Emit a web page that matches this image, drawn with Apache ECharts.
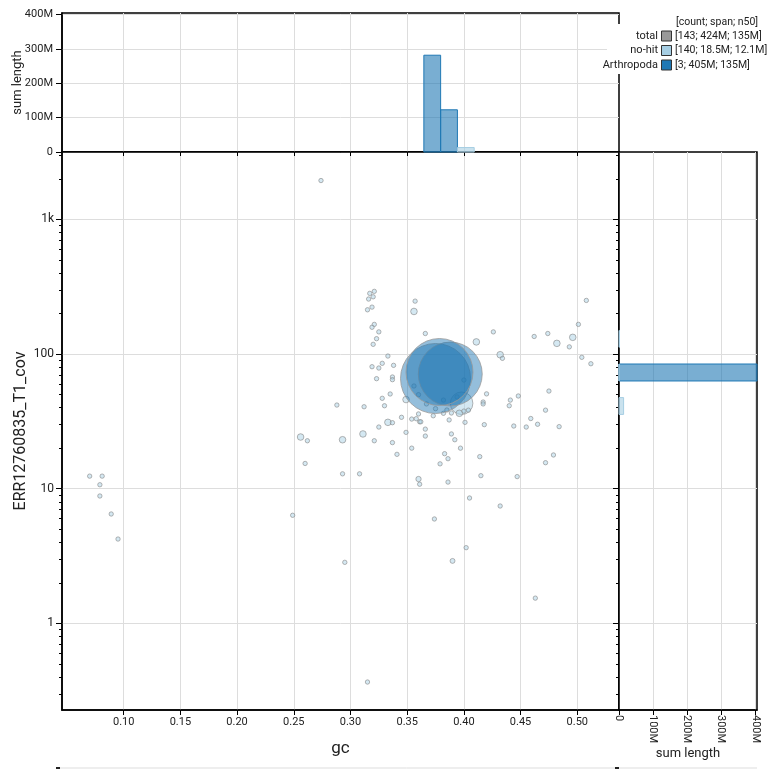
<!DOCTYPE html>
<html><head><meta charset="utf-8">
<script src="https://cdn.jsdelivr.net/npm/echarts@6/dist/echarts.min.js"></script>
<style>html,body{margin:0;padding:0;background:#fff}#c{width:772px;height:772px}</style>
</head><body><div id="c"></div>
<script>
// ---------- axis ticks ----------
const gcTicks = [0.10, 0.15, 0.20, 0.25, 0.30, 0.35, 0.40, 0.45, 0.50];
const gcMin = 0.0456, gcMax = 0.5368;
const covTicks = [1, 10, 100, 1000];
const covTickLabels = ['1', '10', '100', '1k'];
const covMinor = [0.3,0.4,0.5,0.6,0.7,0.8,0.9,2,3,4,5,6,7,8,9,20,30,40,50,60,70,80,90,200,300,400,500,600,700,800,900,2000,3000];
const covMin = 0.2275, covMax = 3162;
const lenTicks = [0, 100e6, 200e6, 300e6, 400e6];
const lenTickLabels = ['0', '100M', '200M', '300M', '400M'];
const lenMax = 405e6;

// ---------- scatter: no-hit ----------
const nohitGc = [0.398,
 0.321,0.317,0.320,0.316,0.319,0.315,0.357,0.356,0.321,0.319,0.325,0.323,0.320,0.366,0.426,0.411,0.462,0.474,0.482,0.496,
 0.493,0.501,0.508,0.504,0.512,0.432,0.434,0.333,0.319,0.325,0.328,0.338,0.323,0.337,0.337,0.335,0.328,0.330,0.312,0.288,
 0.349,0.420,0.417,0.417,0.441,0.448,0.440,0.475,0.472,0.459,0.465,0.484,0.455,0.444,0.418,0.401,0.396,0.389,0.400,0.404,
 0.387,0.382,0.373,0.360,0.361,0.362,0.354,0.358,0.366,0.345,0.333,0.337,0.325,0.311,0.321,0.293,0.256,0.262,0.337,0.349,
 0.366,0.389,0.392,0.397,0.354,0.341,0.383,0.386,0.379,0.414,0.479,0.472,0.260,0.293,0.308,0.360,0.361,0.386,0.415,0.447,
 0.405,0.432,0.249,0.374,0.402,0.295,0.390,0.463,0.315,0.274,0.070,0.081,0.079,0.079,0.089,0.095,
 0.356,0.360,0.367,0.382,0.385,0.375,0.394,0.400];
const nohitCov = [43.1,
 292,282,266,256,223,213,247,207,166,158,146,130,118,142,146,123,135,142,120,133,
 113,166,250,94.5,84.7,98.8,92.9,96.6,80.5,78.7,85.3,82.4,65.6,67.5,64.5,50.5,46.9,41.3,40.6,41.8,
 45.9,50.6,44.0,42.6,45.5,48.8,41.3,53.1,38.3,33.2,30.1,28.9,28.7,29.2,29.9,31.1,36.3,36.5,37.7,38.3,
 32.4,36.3,34.8,35.9,31.4,31.4,32.9,33.1,27.7,33.9,31.1,30.9,28.7,25.5,22.7,23.1,24.2,22.7,22.0,26.2,
 24.6,25.5,23.1,20.0,20.0,18.0,18.2,16.7,15.3,17.3,17.8,15.6,15.4,12.9,12.9,11.8,10.8,11.2,12.5,12.3,
 8.53,7.44,6.35,5.96,3.65,2.84,2.91,1.54,0.367,1941,12.4,12.4,10.7,8.83,6.49,4.23,
 57.9,49.9,42.6,45.5,38.4,39.3,48.0,64.1];
const nohitLen = [12100000,
 20000,20000,20000,20000,20000,20000,20000,300000,20000,20000,20000,20000,20000,20000,20000,300000,20000,20000,300000,300000,
 20000,20000,20000,20000,20000,300000,20000,20000,20000,20000,20000,20000,20000,20000,20000,20000,20000,20000,20000,20000,
 300000,20000,20000,20000,20000,20000,20000,20000,20000,20000,20000,20000,20000,20000,20000,20000,300000,20000,20000,20000,
 20000,20000,20000,20000,20000,20000,20000,20000,20000,20000,300000,20000,20000,300000,20000,300000,300000,20000,20000,20000,
 20000,20000,20000,20000,20000,20000,20000,20000,20000,20000,20000,20000,20000,20000,20000,100000,20000,20000,20000,20000,
 20000,20000,20000,20000,20000,20000,60000,20000,20000,20000,20000,20000,20000,20000,20000,20000,
 20000,20000,20000,20000,20000,20000,20000,20000];

// ---------- scatter: Arthropoda ----------
const arthGc = [0.375, 0.388, 0.3785];
const arthCov = [65.8, 71.0, 73.5];
const arthLen = [148e6, 122e6, 135e6];

// ---------- top histogram (sum length by gc bin) ----------
const gcBinLow = [0.3647, 0.3795, 0.3943];
const gcBinHigh = [0.3795, 0.3943, 0.4091];
const arthGcHist = [282e6, 123e6, 0];
const nohitGcHist = [0, 0, 13e6];

// ---------- right histogram (sum length by coverage bin) ----------
const covBinLow = [35.6, 63.07, 112.3];
const covBinHigh = [47.5, 84.3, 149.7];
const arthCovHist = [0, 405e6, 0];
const nohitCovHist = [13.5e6, 0.3e6, 1.5e6];

// ---------- legend ----------
const legendHeader = '[count; span; n50]';
const legendNames = ['total', 'no-hit', 'Arthropoda'];
const legendStats = ['[143; 424M; 135M]', '[140; 18.5M; 12.1M]', '[3; 405M; 135M]'];

// ---------- styles ----------
const FONT = 'Roboto';
const C_NOHIT = '#a6cee3', C_ARTH = '#1f78b4', C_TOTAL = '#999999';
const lg = Math.log10;

const chart = echarts.init(document.getElementById('c'), null, {renderer: 'canvas', width: 772, height: 772});

const sizeFn = v => 2 * (1.8 + 0.00273 * Math.sqrt(v[2]));
const nohitData = nohitGc.map((g, i) => [g, lg(nohitCov[i]), nohitLen[i]]);
const arthData = arthGc.map((g, i) => [g, lg(arthCov[i]), arthLen[i]]);

function topHist(values) { return gcBinLow.map((lo, i) => [lo, gcBinHigh[i], values[i]]); }
function rightHist(values) { return covBinLow.map((lo, i) => [lg(lo), lg(covBinHigh[i]), values[i]]); }

function topRender(fill, stroke) {
  return function (params, api) {
    const v = api.value(2);
    if (!(v > 0)) return null;
    const a = api.coord([api.value(0), 0]);
    const b = api.coord([api.value(1), v]);
    return {type: 'rect', shape: {x: a[0], y: b[1], width: b[0] - a[0], height: a[1] - b[1]},
      style: {fill: fill, stroke: stroke, lineWidth: 1}};
  };
}
function rightRender(fill, stroke) {
  return function (params, api) {
    const v = api.value(2);
    if (!(v > 0)) return null;
    const a = api.coord([0, api.value(0)]);
    const b = api.coord([v, api.value(1)]);
    return {type: 'rect', shape: {x: a[0], y: b[1], width: b[0] - a[0], height: a[1] - b[1]},
      style: {fill: fill, stroke: stroke, lineWidth: 1}};
  };
}

const gridLine = {show: true, lineStyle: {color: '#dddddd', width: 1}};
const axLine = {show: true, onZero: false, lineStyle: {color: '#000', width: 1.5}};
const lblStyle = {fontFamily: FONT, fontSize: 11, color: '#222'};
const covTickLogs = covTicks.map(lg);
const covMinorLogs = covMinor.map(lg);
const covLabel = v => { const i = covTickLogs.findIndex(t => Math.abs(t - v) < 1e-6); return i >= 0 ? covTickLabels[i] : ''; };
const lenLabel = v => { const i = lenTicks.findIndex(t => Math.abs(t - v) < 1); return i >= 0 ? lenTickLabels[i] : ''; };

const option = {
  animation: false,
  backgroundColor: '#fff',
  grid: [
    {left: 62, top: 152, width: 557, height: 558, show: true, borderColor: '#000', borderWidth: 1.5, containLabel: false, outerBoundsMode: 'none'},
    {left: 62, top: 13, width: 557, height: 139, show: true, borderColor: '#000', borderWidth: 1.5, containLabel: false, outerBoundsMode: 'none'},
    {left: 619, top: 152, width: 138, height: 558, show: true, borderColor: '#000', borderWidth: 1.5, containLabel: false, outerBoundsMode: 'none'}
  ],
  xAxis: [
    {gridIndex: 0, type: 'value', min: gcMin, max: gcMax, position: 'bottom',
      axisLine: axLine,
      axisTick: {show: true, customValues: gcTicks, length: 5, lineStyle: {color: '#000'}},
      axisLabel: Object.assign({customValues: gcTicks, formatter: v => v.toFixed(2), margin: 7}, lblStyle),
      splitLine: gridLine,
      name: 'gc', nameLocation: 'middle', nameGap: 30,
      nameTextStyle: {fontFamily: FONT, fontSize: 17, color: '#222'}},
    {gridIndex: 1, type: 'value', min: gcMin, max: gcMax, position: 'bottom',
      axisLine: axLine,
      axisTick: {show: true, customValues: gcTicks, length: 4, lineStyle: {color: '#000'}},
      axisLabel: {show: false},
      splitLine: gridLine},
    {gridIndex: 2, type: 'value', min: 0, max: lenMax, position: 'bottom',
      axisLine: axLine,
      axisTick: {show: true, customValues: lenTicks, length: 5, lineStyle: {color: '#000'}},
      axisLabel: Object.assign({customValues: lenTicks, formatter: lenLabel, rotate: -90, margin: 5}, lblStyle),
      splitLine: gridLine,
      name: 'sum length', nameLocation: 'middle', nameGap: 37, nameMoveOverlap: false,
      nameTextStyle: {fontFamily: FONT, fontSize: 13, color: '#222'}}
  ],
  yAxis: [
    {gridIndex: 0, type: 'value', min: lg(covMin), max: lg(covMax), position: 'left',
      axisLine: axLine,
      axisTick: {show: true, customValues: covTickLogs, length: 6, lineStyle: {color: '#000'}},
      axisLabel: Object.assign({customValues: covTickLogs, formatter: covLabel, margin: 8}, lblStyle, {fontSize: 12}),
      splitLine: gridLine,
      name: 'ERR12760835_T1_cov', nameLocation: 'middle', nameGap: 33, nameRotate: 90, nameMoveOverlap: false,
      nameTextStyle: {fontFamily: FONT, fontSize: 16, color: '#222'}},
    {gridIndex: 0, type: 'value', min: lg(covMin), max: lg(covMax), position: 'left', offset: 0,
      axisLine: {show: false},
      axisTick: {show: true, customValues: covMinorLogs, length: 3, lineStyle: {color: '#000'}},
      axisLabel: {show: false}, splitLine: {show: false}},
    {gridIndex: 1, type: 'value', min: 0, max: lenMax, position: 'left',
      axisLine: axLine,
      axisTick: {show: true, customValues: lenTicks, length: 6, lineStyle: {color: '#000'}},
      axisLabel: Object.assign({customValues: lenTicks, formatter: lenLabel, margin: 9}, lblStyle),
      splitLine: gridLine,
      name: 'sum length', nameLocation: 'middle', nameGap: 38, nameRotate: 90, nameMoveOverlap: false,
      nameTextStyle: {fontFamily: FONT, fontSize: 13, color: '#222'}},
    {gridIndex: 2, type: 'value', min: lg(covMin), max: lg(covMax), position: 'left',
      axisLine: axLine,
      axisTick: {show: true, customValues: covTickLogs, length: 6, lineStyle: {color: '#000'}},
      axisLabel: {show: false},
      splitLine: gridLine},
    {gridIndex: 2, type: 'value', min: lg(covMin), max: lg(covMax), position: 'left', offset: 0,
      axisLine: {show: false},
      axisTick: {show: true, customValues: covMinorLogs, length: 3, lineStyle: {color: '#000'}},
      axisLabel: {show: false}, splitLine: {show: false}}
  ],
  series: [
    {type: 'scatter', name: 'no-hit', xAxisIndex: 0, yAxisIndex: 0, data: nohitData, symbolSize: sizeFn,
      itemStyle: {color: 'rgba(166,206,227,0.6)', borderColor: '#8a8a8a', borderWidth: 0.8}, z: 3},
    {type: 'scatter', name: 'Arthropoda', xAxisIndex: 0, yAxisIndex: 0, data: arthData, symbolSize: sizeFn,
      itemStyle: {color: 'rgba(31,120,180,0.6)', borderColor: '#9a9a9a', borderWidth: 1}, z: 4},
    {type: 'custom', xAxisIndex: 1, yAxisIndex: 2, data: topHist(arthGcHist), encode: {x: [0, 1], y: 2},
      renderItem: topRender('rgba(31,120,180,0.6)', C_ARTH), z: 3},
    {type: 'custom', xAxisIndex: 1, yAxisIndex: 2, data: topHist(nohitGcHist), encode: {x: [0, 1], y: 2},
      renderItem: topRender('rgba(166,206,227,0.6)', C_NOHIT), z: 4},
    {type: 'custom', xAxisIndex: 2, yAxisIndex: 3, data: rightHist(arthCovHist), encode: {x: 2, y: [0, 1]},
      renderItem: rightRender('rgba(31,120,180,0.6)', C_ARTH), z: 3},
    {type: 'custom', xAxisIndex: 2, yAxisIndex: 3, data: rightHist(nohitCovHist), encode: {x: 2, y: [0, 1]},
      renderItem: rightRender('rgba(166,206,227,0.6)', C_NOHIT), z: 4}
  ],
  graphic: (function () {
    const g = [];
    g.push({type: 'rect', shape: {x: 607, y: 24, width: 165, height: 50}, style: {fill: '#fff'}, z: 100});
    g.push({type: 'text', x: 676, y: 22, z: 101,
      style: {text: legendHeader, font: '10.5px ' + FONT, fill: '#222', align: 'left', verticalAlign: 'middle', textAlign: 'left', textVerticalAlign: 'middle'}});
    const colors = [C_TOTAL, C_NOHIT, C_ARTH];
    const rowsY = [36, 50.5, 65];
    legendNames.forEach((n, i) => {
      g.push({type: 'text', x: 658, y: rowsY[i], z: 101,
        style: {text: n, font: '11px ' + FONT, fill: '#222', align: 'right', verticalAlign: 'middle', textAlign: 'right', textVerticalAlign: 'middle'}});
      g.push({type: 'rect', shape: {x: 661.5, y: rowsY[i] - 5, width: 10, height: 10}, z: 101,
        style: {fill: colors[i], stroke: '#333', lineWidth: 1}});
      g.push({type: 'text', x: 675, y: rowsY[i], z: 101,
        style: {text: legendStats[i], font: '10.5px ' + FONT, fill: '#222', align: 'left', verticalAlign: 'middle', textAlign: 'left', textVerticalAlign: 'middle'}});
    });
    g.push({type: 'line', shape: {x1: 56, y1: 768, x2: 757, y2: 768}, style: {stroke: '#dddddd', lineWidth: 1}, z: 50});
    g.push({type: 'rect', shape: {x: 56, y: 767, width: 4, height: 2}, style: {fill: '#222'}, z: 51});
    g.push({type: 'rect', shape: {x: 615, y: 767, width: 4, height: 2}, style: {fill: '#222'}, z: 51});
    return g;
  })()
};
chart.setOption(option);
</script>
</body></html>
